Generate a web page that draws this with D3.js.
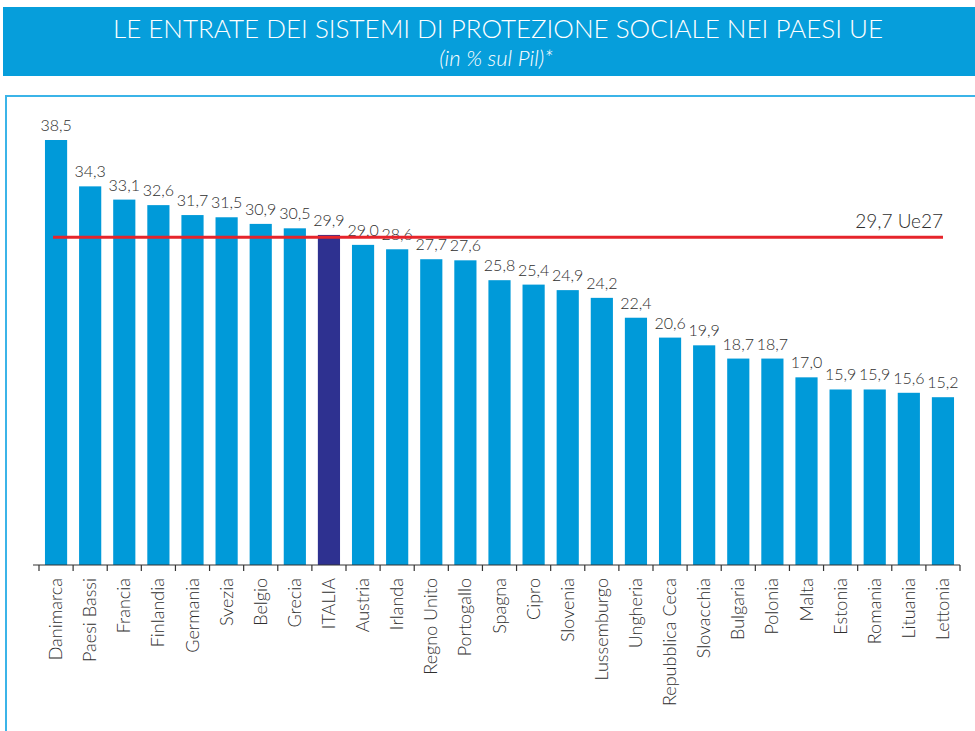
<!DOCTYPE html>
<html>
<head>
<meta charset="utf-8">
<script src="https://cdn.jsdelivr.net/npm/d3@7/dist/d3.min.js"></script>
<style>
  html, body { margin: 0; padding: 0; background: #fff; }
  svg { display: block; }
  text { font-family: Lato, "Open Sans", sans-serif; }
</style>
</head>
<body>
<svg id="chart" width="975" height="731"></svg>
<script>
// Entrate dei sistemi di protezione sociale, % del Pil
const countries = ["Danimarca", "Paesi Bassi", "Francia", "Finlandia", "Germania", "Svezia", "Belgio", "Grecia", "ITALIA", "Austria", "Irlanda", "Regno Unito", "Portogallo", "Spagna", "Cipro", "Slovenia", "Lussemburgo", "Ungheria", "Repubblica Ceca", "Slovacchia", "Bulgaria", "Polonia", "Malta", "Estonia", "Romania", "Lituania", "Lettonia"];
const values = [38.5, 34.3, 33.1, 32.6, 31.7, 31.5, 30.9, 30.5, 29.9, 29.0, 28.6, 27.7, 27.6, 25.8, 25.4, 24.9, 24.2, 22.4, 20.6, 19.9, 18.7, 18.7, 17.0, 15.9, 15.9, 15.6, 15.2];
const highlight = "ITALIA";
const euAverage = 29.7;
const euLabel = "Ue27";
const title = "LE ENTRATE DEI SISTEMI DI PROTEZIONE SOCIALE NEI PAESI UE";
const subtitle = "(in % sul Pil)*";

const data = countries.map((c, i) => ({ country: c, value: values[i] }));
const fmt = v => d3.format(".1f")(v).replace(".", ",");
const ink = "#2e2e2e";

const svg = d3.select("#chart");

// Title banner
svg.append("rect").attr("x", 3).attr("y", 7).attr("width", 972).attr("height", 69).attr("fill", "#069edb");
svg.append("text").attr("x", 498).attr("y", 38).attr("text-anchor", "middle")
  .attr("fill", "#fff").attr("font-size", 26).attr("font-weight", 300).text(title);
svg.append("text").attr("x", 496).attr("y", 66).attr("text-anchor", "middle")
  .attr("fill", "#fff").attr("font-size", 22).attr("font-style", "italic").attr("font-weight", 300).text(subtitle);

// Panel frame
svg.append("rect").attr("x", 6).attr("y", 96).attr("width", 980).attr("height", 700)
  .attr("fill", "none").attr("stroke", "#3bb4e8").attr("stroke-width", 2);

const x = d3.scaleBand().domain(countries).range([39, 960]).paddingInner(0.35).paddingOuter(0.175);
const y = d3.scaleLinear().domain([0, 38.5]).range([565, 140]);

// Bars
svg.append("g").selectAll("rect").data(data).join("rect")
  .attr("x", d => x(d.country))
  .attr("y", d => y(d.value))
  .attr("width", x.bandwidth())
  .attr("height", d => y(0) - y(d.value))
  .attr("fill", d => d.country === highlight ? "#2e3190" : "#009ad9");

// Value labels
svg.append("g").selectAll("text").data(data).join("text")
  .attr("x", d => x(d.country) + x.bandwidth() / 2)
  .attr("y", d => y(d.value) - 9)
  .attr("text-anchor", "middle")
  .attr("fill", ink).attr("font-size", 16).attr("font-weight", 300)
  .text(d => fmt(d.value));

// EU average line
svg.append("line")
  .attr("x1", 53).attr("x2", 943)
  .attr("y1", y(euAverage)).attr("y2", y(euAverage))
  .attr("stroke", "#e6242b").attr("stroke-width", 3);
svg.append("text").attr("x", 943).attr("y", y(euAverage) - 9).attr("text-anchor", "end")
  .attr("fill", ink).attr("font-size", 19).attr("font-weight", 300)
  .text(fmt(euAverage) + " " + euLabel);

// Category axis
const axisX = d3.scaleLinear().domain([0, countries.length]).range([39, 960]);
const axis = svg.append("g").attr("transform", "translate(0,565)");
axis.append("line").attr("x1", 33).attr("x2", 960).attr("stroke", "#333").attr("stroke-width", 1.2);
axis.selectAll("line.tick").data(d3.range(countries.length + 1)).join("line")
  .attr("class", "tick")
  .attr("x1", d => axisX(d)).attr("x2", d => axisX(d))
  .attr("y1", 0).attr("y2", 6).attr("stroke", "#333").attr("stroke-width", 1.2);
axis.selectAll("text").data(countries).join("text")
  .attr("transform", d => `translate(${x(d) + x.bandwidth() / 2 + 6},13) rotate(-90)`)
  .attr("text-anchor", "end")
  .attr("fill", ink).attr("font-size", 18).attr("font-weight", 300)
  .text(d => d);
</script>
</body>
</html>
